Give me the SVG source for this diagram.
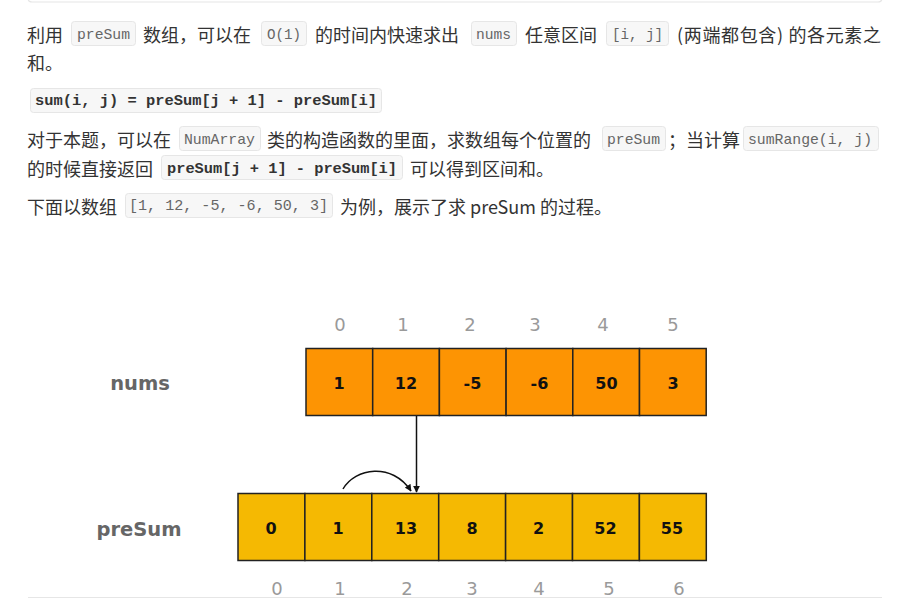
<svg xmlns="http://www.w3.org/2000/svg" width="907" height="610" viewBox="0 0 907 610">
<defs>
<style>
.t{font-family:"Noto Sans CJK SC","Noto Sans",sans-serif;font-size:18px;fill:#333}
.cb{fill:#f7f7f7;stroke:#e6e6e6;stroke-width:1}
.c{font-family:"Liberation Mono","DejaVu Sans Mono",monospace;font-size:15px;fill:#666}
.cB{font-family:"Liberation Mono","DejaVu Sans Mono",monospace;font-size:15.5px;font-weight:bold;fill:#333}
.n{fill:#fd9403;stroke:#222;stroke-width:1.5}
.p{fill:#f5b902;stroke:#222;stroke-width:1.5}
.v{font-family:"DejaVu Sans",Verdana,sans-serif;font-size:16px;font-weight:bold;fill:#111;text-anchor:middle}
.i{font-family:"DejaVu Sans",Verdana,sans-serif;font-size:18px;fill:#9a9a9a;text-anchor:middle}
.lb{font-family:"DejaVu Sans",Verdana,sans-serif;font-size:19.5px;font-weight:bold;fill:#666;text-anchor:middle}
.e{fill:none;stroke:#111;stroke-width:1.5}
</style>
<marker id="ah" viewBox="0 0 10 10" refX="9" refY="5" markerWidth="7" markerHeight="7" orient="auto" markerUnits="userSpaceOnUse">
<path d="M0,0 L10,5 L0,10 z" fill="#111"/>
</marker>
</defs>
<rect width="907" height="610" fill="#fff"/>
<path d="M28,-6 L28,-2 Q28,2 32,2 L878,2 Q882,2 882,-2 L882,-6" fill="none" stroke="#e6e6e6" stroke-width="1.2"/>
<line x1="28" y1="597.5" x2="882" y2="597.5" stroke="#e6e6e6" stroke-width="1.2"/>

<g id="text">
<text class="t" x="27" y="41.5">利用</text>
<rect class="cb" x="71.5" y="21.5" width="64" height="24" rx="3"/>
<text class="c" x="77" y="38.5" textLength="53" lengthAdjust="spacingAndGlyphs">preSum</text>
<text class="t" x="143" y="41.5">数组，可以在</text>
<rect class="cb" x="261.5" y="21.5" width="45" height="24" rx="3"/>
<text class="c" x="267" y="38.5" textLength="34" lengthAdjust="spacingAndGlyphs">O(1)</text>
<text class="t" x="315" y="41.5">的时间内快速求出</text>
<rect class="cb" x="471.5" y="21.5" width="45" height="24" rx="3"/>
<text class="c" x="476" y="38.5" textLength="35" lengthAdjust="spacingAndGlyphs">nums</text>
<text class="t" x="525" y="41.5">任意区间</text>
<rect class="cb" x="606.5" y="21.5" width="62" height="24" rx="3"/>
<text class="c" x="612" y="38.5" textLength="51" lengthAdjust="spacingAndGlyphs">[i, j]</text>
<text class="t" x="677" y="41.5" textLength="204" lengthAdjust="spacing">(两端都包含) 的各元素之</text>
<text class="t" x="27" y="69.5">和。</text>

<rect class="cb" x="30.5" y="88.5" width="351" height="24" rx="3"/>
<text class="cB" x="35" y="105" textLength="342" lengthAdjust="spacingAndGlyphs">sum(i, j) = preSum[j + 1] - preSum[i]</text>

<text class="t" x="27" y="147">对于本题，可以在</text>
<rect class="cb" x="179.5" y="126.5" width="81" height="24" rx="3"/>
<text class="c" x="184" y="143.5" textLength="71" lengthAdjust="spacingAndGlyphs">NumArray</text>
<text class="t" x="267" y="147">类的构造函数的里面，求数组每个位置的</text>
<rect class="cb" x="602.5" y="126.5" width="63" height="24" rx="3"/>
<text class="c" x="607" y="143.5" textLength="53" lengthAdjust="spacingAndGlyphs">preSum</text>
<text class="t" x="668" y="147">；当计算</text>
<rect class="cb" x="743.5" y="126.5" width="135" height="24" rx="3"/>
<text class="c" x="748" y="143.5" textLength="124" lengthAdjust="spacingAndGlyphs">sumRange(i, j)</text>

<text class="t" x="27" y="176">的时候直接返回</text>
<rect class="cb" x="161.5" y="155.5" width="241" height="24" rx="3"/>
<text class="cB" x="167" y="172.5" textLength="230" lengthAdjust="spacingAndGlyphs">preSum[j + 1] - preSum[i]</text>
<text class="t" x="410" y="176">可以得到区间和。</text>

<text class="t" x="27" y="213.5">下面以数组</text>
<rect class="cb" x="125.5" y="193.5" width="207" height="24" rx="3"/>
<text class="c" x="129" y="210" textLength="199" lengthAdjust="spacingAndGlyphs">[1, 12, -5, -6, 50, 3]</text>
<text class="t" x="340" y="213.5">为例，展示了求 preSum 的过程。</text>
</g>

<g id="nums-label"><text class="lb" x="140" y="390">nums</text></g>
<g id="preSum-label"><text class="lb" x="139" y="536">preSum</text></g>

<g id="nums-index">
<text class="i" x="340" y="331">0</text>
<text class="i" x="403" y="331">1</text>
<text class="i" x="470" y="331">2</text>
<text class="i" x="535" y="331">3</text>
<text class="i" x="603" y="331">4</text>
<text class="i" x="673" y="331">5</text>
</g>

<g id="nums0"><rect class="n" x="306" y="348.5" width="66.7" height="67"/><text class="v" x="339" y="389">1</text></g>
<g id="nums1"><rect class="n" x="372.7" y="348.5" width="66.7" height="67"/><text class="v" x="406" y="389">12</text></g>
<g id="nums2"><rect class="n" x="439.4" y="348.5" width="66.7" height="67"/><text class="v" x="472.5" y="389">-5</text></g>
<g id="nums3"><rect class="n" x="506.1" y="348.5" width="66.7" height="67"/><text class="v" x="539.5" y="389">-6</text></g>
<g id="nums4"><rect class="n" x="572.8" y="348.5" width="66.7" height="67"/><text class="v" x="606.5" y="389">50</text></g>
<g id="nums5"><rect class="n" x="639.5" y="348.5" width="66.7" height="67"/><text class="v" x="673" y="389">3</text></g>

<g id="preSum0"><rect class="p" x="238" y="493.5" width="66.9" height="67"/><text class="v" x="271" y="534">0</text></g>
<g id="preSum1"><rect class="p" x="304.9" y="493.5" width="66.9" height="67"/><text class="v" x="338" y="534">1</text></g>
<g id="preSum2"><rect class="p" x="371.8" y="493.5" width="66.9" height="67"/><text class="v" x="406" y="534">13</text></g>
<g id="preSum3"><rect class="p" x="438.7" y="493.5" width="66.9" height="67"/><text class="v" x="472" y="534">8</text></g>
<g id="preSum4"><rect class="p" x="505.6" y="493.5" width="66.9" height="67"/><text class="v" x="538.5" y="534">2</text></g>
<g id="preSum5"><rect class="p" x="572.5" y="493.5" width="66.9" height="67"/><text class="v" x="605.5" y="534">52</text></g>
<g id="preSum6"><rect class="p" x="639.4" y="493.5" width="66.9" height="67"/><text class="v" x="672" y="534">55</text></g>

<g id="preSum-index">
<text class="i" x="277" y="595">0</text>
<text class="i" x="340" y="595">1</text>
<text class="i" x="407" y="595">2</text>
<text class="i" x="472" y="595">3</text>
<text class="i" x="539" y="595">4</text>
<text class="i" x="609" y="595">5</text>
<text class="i" x="679" y="595">6</text>
</g>

<g id="connectors">
<line class="e" x1="416.5" y1="416" x2="416.5" y2="492" marker-end="url(#ah)"/>
<path class="e" d="M343,489 C355,468 392,462 411,491" marker-end="url(#ah)"/>
</g>
</svg>
